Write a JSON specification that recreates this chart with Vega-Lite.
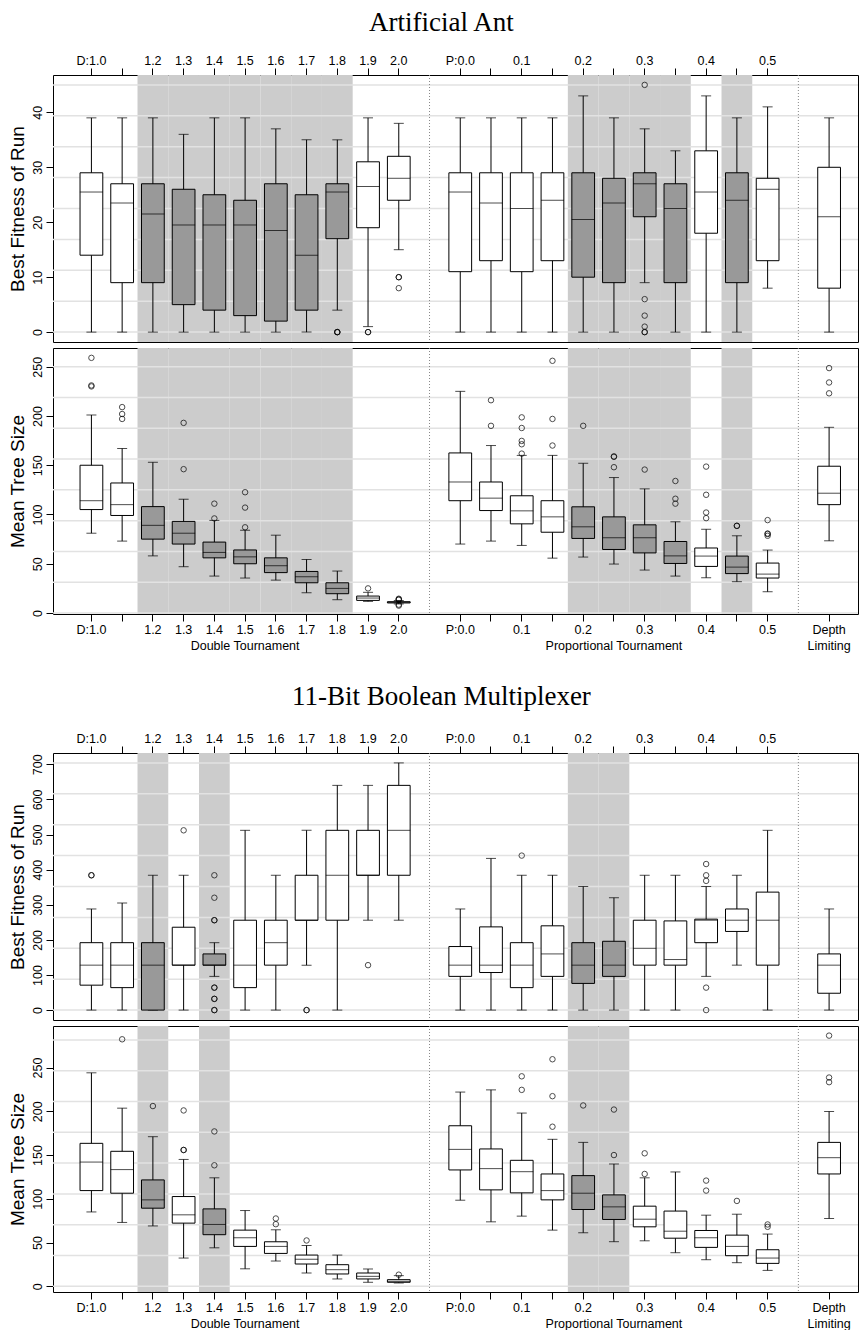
{
"$schema": "https://vega.github.io/schema/vega-lite/v6.json",
"padding": {"left": 7, "top": 8, "right": 0, "bottom": 0},
"background": "white",
"config": {
  "view": {"stroke": "black", "strokeWidth": 1},
  "font": "Liberation Sans",
  "axis": {"labelFont": "Liberation Sans", "labelFontSize": 12.5, "labelColor": "black", "tickColor": "black", "tickSize": 7, "tickWidth": 1, "domain": false, "grid": false, "titleFont": "Liberation Sans", "titleFontSize": 19, "titleFontWeight": "normal", "titleColor": "black"},
  "title": {"font": "Liberation Serif", "fontSize": 27, "fontWeight": "normal", "color": "black"}
},
"datasets": {
  "seps": [{"cat": "s1"}, {"cat": "s2"}],
  "grid": [
    {"k":"af","v":0},{"k":"af","v":5.625},{"k":"af","v":11.25},{"k":"af","v":16.875},{"k":"af","v":22.5},{"k":"af","v":28.125},{"k":"af","v":33.75},{"k":"af","v":39.375},{"k":"af","v":45},
    {"k":"as","v":0},{"k":"as","v":31.25},{"k":"as","v":62.5},{"k":"as","v":93.75},{"k":"as","v":125},{"k":"as","v":156.25},{"k":"as","v":187.5},{"k":"as","v":218.75},{"k":"as","v":250},
    {"k":"mf","v":0},{"k":"mf","v":88},{"k":"mf","v":176},{"k":"mf","v":264},{"k":"mf","v":352},{"k":"mf","v":440},{"k":"mf","v":528},{"k":"mf","v":616},{"k":"mf","v":704},
    {"k":"ms","v":0},{"k":"ms","v":35.2},{"k":"ms","v":70.4},{"k":"ms","v":105.6},{"k":"ms","v":140.8},{"k":"ms","v":176},{"k":"ms","v":211.2},{"k":"ms","v":246.4},{"k":"ms","v":281.6}
  ],
  "boxes": [
    {"k":"af","cat":"D:1.0","lo":0,"q1":14,"med":25.5,"q3":29,"hi":39,"sh":false},
    {"k":"af","cat":"D:1.1","lo":0,"q1":9,"med":23.5,"q3":27,"hi":39,"sh":false},
    {"k":"af","cat":"D:1.2","lo":0,"q1":9,"med":21.5,"q3":27,"hi":39,"sh":true},
    {"k":"af","cat":"D:1.3","lo":0,"q1":5,"med":19.5,"q3":26,"hi":36,"sh":true},
    {"k":"af","cat":"D:1.4","lo":0,"q1":4,"med":19.5,"q3":25,"hi":39,"sh":true},
    {"k":"af","cat":"D:1.5","lo":0,"q1":3,"med":19.5,"q3":24,"hi":39,"sh":true},
    {"k":"af","cat":"D:1.6","lo":0,"q1":2,"med":18.5,"q3":27,"hi":37,"sh":true},
    {"k":"af","cat":"D:1.7","lo":0,"q1":4,"med":14,"q3":25,"hi":35,"sh":true},
    {"k":"af","cat":"D:1.8","lo":4,"q1":17,"med":25.5,"q3":27,"hi":35,"sh":true},
    {"k":"af","cat":"D:1.9","lo":1,"q1":19,"med":26.5,"q3":31,"hi":39,"sh":false},
    {"k":"af","cat":"D:2.0","lo":15,"q1":24,"med":28,"q3":32,"hi":38,"sh":false},
    {"k":"af","cat":"P:0.0","lo":0,"q1":11,"med":25.5,"q3":29,"hi":39,"sh":false},
    {"k":"af","cat":"P:0.05","lo":0,"q1":13,"med":23.5,"q3":29,"hi":39,"sh":false},
    {"k":"af","cat":"P:0.1","lo":0,"q1":11,"med":22.5,"q3":29,"hi":39,"sh":false},
    {"k":"af","cat":"P:0.15","lo":0,"q1":13,"med":24,"q3":29,"hi":39,"sh":false},
    {"k":"af","cat":"P:0.2","lo":0,"q1":10,"med":20.5,"q3":29,"hi":43,"sh":true},
    {"k":"af","cat":"P:0.25","lo":0,"q1":9,"med":23.5,"q3":28,"hi":39,"sh":true},
    {"k":"af","cat":"P:0.3","lo":9,"q1":21,"med":27,"q3":29,"hi":37,"sh":true},
    {"k":"af","cat":"P:0.35","lo":0,"q1":9,"med":22.5,"q3":27,"hi":33,"sh":true},
    {"k":"af","cat":"P:0.4","lo":0,"q1":18,"med":25.5,"q3":33,"hi":43,"sh":false},
    {"k":"af","cat":"P:0.45","lo":0,"q1":9,"med":24,"q3":29,"hi":39,"sh":true},
    {"k":"af","cat":"P:0.5","lo":8,"q1":13,"med":26,"q3":28,"hi":41,"sh":false},
    {"k":"af","cat":"Depth","lo":0,"q1":8,"med":21,"q3":30,"hi":39,"sh":false},

    {"k":"as","cat":"D:1.0","lo":81,"q1":105,"med":114,"q3":150,"hi":201,"sh":false},
    {"k":"as","cat":"D:1.1","lo":73,"q1":99,"med":110,"q3":132,"hi":167,"sh":false},
    {"k":"as","cat":"D:1.2","lo":58,"q1":75,"med":89,"q3":108,"hi":153,"sh":true},
    {"k":"as","cat":"D:1.3","lo":47,"q1":70,"med":81,"q3":93,"hi":115.5,"sh":true},
    {"k":"as","cat":"D:1.4","lo":37.5,"q1":56,"med":61.5,"q3":72,"hi":94,"sh":true},
    {"k":"as","cat":"D:1.5","lo":35.5,"q1":50,"med":57,"q3":64,"hi":84,"sh":true},
    {"k":"as","cat":"D:1.6","lo":33.4,"q1":41,"med":48,"q3":56,"hi":79,"sh":true},
    {"k":"as","cat":"D:1.7","lo":20.6,"q1":30.7,"med":36.8,"q3":42.2,"hi":54.4,"sh":true},
    {"k":"as","cat":"D:1.8","lo":13.5,"q1":19.6,"med":25,"q3":30.7,"hi":42.6,"sh":true},
    {"k":"as","cat":"D:1.9","lo":11.8,"q1":12.8,"med":15.2,"q3":17.2,"hi":21,"sh":false},
    {"k":"as","cat":"D:2.0","lo":9.2,"q1":10.2,"med":10.8,"q3":11.5,"hi":12.7,"sh":false},
    {"k":"as","cat":"P:0.0","lo":70,"q1":114,"med":133,"q3":162.5,"hi":225,"sh":false},
    {"k":"as","cat":"P:0.05","lo":73,"q1":104,"med":116.6,"q3":133,"hi":170,"sh":false},
    {"k":"as","cat":"P:0.1","lo":68.6,"q1":90.5,"med":103.7,"q3":119,"hi":160,"sh":false},
    {"k":"as","cat":"P:0.15","lo":55.7,"q1":82,"med":97.6,"q3":114,"hi":160,"sh":false},
    {"k":"as","cat":"P:0.2","lo":56.8,"q1":75.7,"med":87.5,"q3":107.8,"hi":152,"sh":true},
    {"k":"as","cat":"P:0.25","lo":49.7,"q1":64.5,"med":76.4,"q3":97.6,"hi":137.5,"sh":true},
    {"k":"as","cat":"P:0.3","lo":43.6,"q1":61,"med":76.4,"q3":89.5,"hi":126,"sh":true},
    {"k":"as","cat":"P:0.35","lo":37.5,"q1":50.3,"med":58,"q3":72.6,"hi":92.6,"sh":true},
    {"k":"as","cat":"P:0.4","lo":35.8,"q1":47.3,"med":57.8,"q3":66,"hi":85,"sh":false},
    {"k":"as","cat":"P:0.45","lo":31.8,"q1":40,"med":46.6,"q3":57.8,"hi":78.4,"sh":true},
    {"k":"as","cat":"P:0.5","lo":21.6,"q1":35.5,"med":39.5,"q3":50.7,"hi":63.9,"sh":false},
    {"k":"as","cat":"Depth","lo":73.3,"q1":110,"med":121.6,"q3":149,"hi":188.5,"sh":false},

    {"k":"mf","cat":"D:1.0","lo":0,"q1":71,"med":128,"q3":192,"hi":288,"sh":false},
    {"k":"mf","cat":"D:1.1","lo":0,"q1":64,"med":128,"q3":192,"hi":305,"sh":false},
    {"k":"mf","cat":"D:1.2","lo":0,"q1":0,"med":128,"q3":192,"hi":384,"sh":true},
    {"k":"mf","cat":"D:1.3","lo":0,"q1":128,"med":128,"q3":236,"hi":384,"sh":false},
    {"k":"mf","cat":"D:1.4","lo":96,"q1":128,"med":128,"q3":160,"hi":192,"sh":true},
    {"k":"mf","cat":"D:1.5","lo":0,"q1":64,"med":128,"q3":256,"hi":512,"sh":false},
    {"k":"mf","cat":"D:1.6","lo":0,"q1":128,"med":192,"q3":256,"hi":384,"sh":false},
    {"k":"mf","cat":"D:1.7","lo":128,"q1":256,"med":256,"q3":384,"hi":512,"sh":false},
    {"k":"mf","cat":"D:1.8","lo":0,"q1":256,"med":384,"q3":512,"hi":640,"sh":false},
    {"k":"mf","cat":"D:1.9","lo":256,"q1":384,"med":384,"q3":512,"hi":640,"sh":false},
    {"k":"mf","cat":"D:2.0","lo":256,"q1":384,"med":512,"q3":640,"hi":704,"sh":false},
    {"k":"mf","cat":"P:0.0","lo":0,"q1":96,"med":128,"q3":181,"hi":288,"sh":false},
    {"k":"mf","cat":"P:0.05","lo":0,"q1":107,"med":128,"q3":237,"hi":432,"sh":false},
    {"k":"mf","cat":"P:0.1","lo":0,"q1":64,"med":128,"q3":192,"hi":384,"sh":false},
    {"k":"mf","cat":"P:0.15","lo":0,"q1":96,"med":160,"q3":240,"hi":384,"sh":false},
    {"k":"mf","cat":"P:0.2","lo":0,"q1":76,"med":128,"q3":192,"hi":352,"sh":true},
    {"k":"mf","cat":"P:0.25","lo":0,"q1":96,"med":128,"q3":196,"hi":320,"sh":true},
    {"k":"mf","cat":"P:0.3","lo":0,"q1":128,"med":176,"q3":256,"hi":384,"sh":false},
    {"k":"mf","cat":"P:0.35","lo":0,"q1":128,"med":144,"q3":254,"hi":384,"sh":false},
    {"k":"mf","cat":"P:0.4","lo":96,"q1":192,"med":256,"q3":259,"hi":352,"sh":false},
    {"k":"mf","cat":"P:0.45","lo":128,"q1":224,"med":256,"q3":288,"hi":384,"sh":false},
    {"k":"mf","cat":"P:0.5","lo":0,"q1":128,"med":256,"q3":336,"hi":512,"sh":false},
    {"k":"mf","cat":"Depth","lo":0,"q1":48,"med":128,"q3":160,"hi":288,"sh":false},

    {"k":"ms","cat":"D:1.0","lo":85,"q1":109.4,"med":142,"q3":163.4,"hi":244,"sh":false},
    {"k":"ms","cat":"D:1.1","lo":73,"q1":106.4,"med":133.4,"q3":154.3,"hi":203.6,"sh":false},
    {"k":"ms","cat":"D:1.2","lo":69,"q1":89.3,"med":98.8,"q3":121.6,"hi":171,"sh":true},
    {"k":"ms","cat":"D:1.3","lo":32.3,"q1":72.2,"med":81.7,"q3":102.6,"hi":145,"sh":false},
    {"k":"ms","cat":"D:1.4","lo":44,"q1":59,"med":70.7,"q3":88.5,"hi":124,"sh":true},
    {"k":"ms","cat":"D:1.5","lo":20,"q1":45.6,"med":55.5,"q3":64.2,"hi":86.6,"sh":false},
    {"k":"ms","cat":"D:1.6","lo":28.9,"q1":37.6,"med":45.6,"q3":50.9,"hi":64.6,"sh":false},
    {"k":"ms","cat":"D:1.7","lo":15.2,"q1":25.5,"med":30.8,"q3":35.7,"hi":46.7,"sh":false},
    {"k":"ms","cat":"D:1.8","lo":8.4,"q1":14.1,"med":19,"q3":24.7,"hi":35.7,"sh":false},
    {"k":"ms","cat":"D:1.9","lo":4.6,"q1":8.4,"med":11.4,"q3":15.2,"hi":19.8,"sh":false},
    {"k":"ms","cat":"D:2.0","lo":3.8,"q1":4.6,"med":5.7,"q3":7.6,"hi":12.2,"sh":false},
    {"k":"ms","cat":"P:0.0","lo":98.4,"q1":133,"med":156.5,"q3":183.5,"hi":222,"sh":false},
    {"k":"ms","cat":"P:0.05","lo":73.7,"q1":110.2,"med":134.5,"q3":157,"hi":224.5,"sh":false},
    {"k":"ms","cat":"P:0.1","lo":80.2,"q1":106.8,"med":131,"q3":144,"hi":198,"sh":false},
    {"k":"ms","cat":"P:0.15","lo":64.2,"q1":98.8,"med":109.4,"q3":128.4,"hi":168,"sh":false},
    {"k":"ms","cat":"P:0.2","lo":61.2,"q1":87.8,"med":106.4,"q3":126.5,"hi":164.5,"sh":true},
    {"k":"ms","cat":"P:0.25","lo":51,"q1":76.4,"med":90.8,"q3":104.5,"hi":139.8,"sh":true},
    {"k":"ms","cat":"P:0.3","lo":52,"q1":68,"med":76.7,"q3":91.6,"hi":124,"sh":false},
    {"k":"ms","cat":"P:0.35","lo":38.4,"q1":55,"med":63,"q3":86,"hi":130.7,"sh":false},
    {"k":"ms","cat":"P:0.4","lo":30.4,"q1":44.5,"med":55.5,"q3":63.8,"hi":81.3,"sh":false},
    {"k":"ms","cat":"P:0.45","lo":27,"q1":35,"med":45.6,"q3":58.5,"hi":82.4,"sh":false},
    {"k":"ms","cat":"P:0.5","lo":18.2,"q1":26.2,"med":32.3,"q3":41.8,"hi":59.7,"sh":false},
    {"k":"ms","cat":"Depth","lo":77.5,"q1":128.4,"med":147,"q3":164.5,"hi":199.8,"sh":false}
  ],
  "outs": [
    {"k":"af","cat":"D:1.8","v":0},{"k":"af","cat":"D:1.8","v":0},{"k":"af","cat":"D:1.8","v":0},
    {"k":"af","cat":"D:1.9","v":0},{"k":"af","cat":"D:1.9","v":0},
    {"k":"af","cat":"D:2.0","v":10},{"k":"af","cat":"D:2.0","v":10},{"k":"af","cat":"D:2.0","v":8},
    {"k":"af","cat":"P:0.3","v":45},{"k":"af","cat":"P:0.3","v":6},{"k":"af","cat":"P:0.3","v":3},{"k":"af","cat":"P:0.3","v":1},{"k":"af","cat":"P:0.3","v":0},{"k":"af","cat":"P:0.3","v":0},

    {"k":"as","cat":"D:1.0","v":259},{"k":"as","cat":"D:1.0","v":231},{"k":"as","cat":"D:1.0","v":230},
    {"k":"as","cat":"D:1.1","v":209},{"k":"as","cat":"D:1.1","v":202},{"k":"as","cat":"D:1.1","v":197},
    {"k":"as","cat":"D:1.3","v":193},{"k":"as","cat":"D:1.3","v":146},
    {"k":"as","cat":"D:1.4","v":111},{"k":"as","cat":"D:1.4","v":96},
    {"k":"as","cat":"D:1.5","v":122.6},{"k":"as","cat":"D:1.5","v":107},{"k":"as","cat":"D:1.5","v":87},
    {"k":"as","cat":"D:1.9","v":25},
    {"k":"as","cat":"D:2.0","v":14.5},{"k":"as","cat":"D:2.0","v":13.8},{"k":"as","cat":"D:2.0","v":13.5},{"k":"as","cat":"D:2.0","v":8.5},{"k":"as","cat":"D:2.0","v":7.5},
    {"k":"as","cat":"P:0.05","v":216},{"k":"as","cat":"P:0.05","v":190},
    {"k":"as","cat":"P:0.1","v":198.6},{"k":"as","cat":"P:0.1","v":187.8},{"k":"as","cat":"P:0.1","v":174.7},{"k":"as","cat":"P:0.1","v":171.3},{"k":"as","cat":"P:0.1","v":161.8},
    {"k":"as","cat":"P:0.15","v":256},{"k":"as","cat":"P:0.15","v":197},{"k":"as","cat":"P:0.15","v":170},
    {"k":"as","cat":"P:0.2","v":190},
    {"k":"as","cat":"P:0.25","v":159},{"k":"as","cat":"P:0.25","v":158.5},{"k":"as","cat":"P:0.25","v":148},
    {"k":"as","cat":"P:0.3","v":145.6},
    {"k":"as","cat":"P:0.35","v":134},{"k":"as","cat":"P:0.35","v":116},{"k":"as","cat":"P:0.35","v":111},
    {"k":"as","cat":"P:0.4","v":148.6},{"k":"as","cat":"P:0.4","v":120},{"k":"as","cat":"P:0.4","v":102},{"k":"as","cat":"P:0.4","v":96.3},
    {"k":"as","cat":"P:0.45","v":88.5},{"k":"as","cat":"P:0.45","v":88.5},
    {"k":"as","cat":"P:0.5","v":94.3},{"k":"as","cat":"P:0.5","v":80.7},{"k":"as","cat":"P:0.5","v":80.2},{"k":"as","cat":"P:0.5","v":78.4},
    {"k":"as","cat":"Depth","v":248.6},{"k":"as","cat":"Depth","v":234},{"k":"as","cat":"Depth","v":223},

    {"k":"mf","cat":"D:1.0","v":384},{"k":"mf","cat":"D:1.0","v":384},
    {"k":"mf","cat":"D:1.3","v":512},
    {"k":"mf","cat":"D:1.4","v":384},{"k":"mf","cat":"D:1.4","v":320},{"k":"mf","cat":"D:1.4","v":256},{"k":"mf","cat":"D:1.4","v":256},{"k":"mf","cat":"D:1.4","v":64},{"k":"mf","cat":"D:1.4","v":64},{"k":"mf","cat":"D:1.4","v":32},{"k":"mf","cat":"D:1.4","v":32},{"k":"mf","cat":"D:1.4","v":0},{"k":"mf","cat":"D:1.4","v":0},
    {"k":"mf","cat":"D:1.7","v":0},{"k":"mf","cat":"D:1.7","v":0},
    {"k":"mf","cat":"D:1.9","v":128},
    {"k":"mf","cat":"P:0.1","v":440},
    {"k":"mf","cat":"P:0.4","v":416},{"k":"mf","cat":"P:0.4","v":384},{"k":"mf","cat":"P:0.4","v":368},{"k":"mf","cat":"P:0.4","v":64},{"k":"mf","cat":"P:0.4","v":0},

    {"k":"ms","cat":"D:1.1","v":282.3},
    {"k":"ms","cat":"D:1.2","v":206},
    {"k":"ms","cat":"D:1.3","v":201},{"k":"ms","cat":"D:1.3","v":155.8},{"k":"ms","cat":"D:1.3","v":155.8},
    {"k":"ms","cat":"D:1.4","v":177},{"k":"ms","cat":"D:1.4","v":138.3},
    {"k":"ms","cat":"D:1.6","v":77.5},{"k":"ms","cat":"D:1.6","v":71},
    {"k":"ms","cat":"D:1.7","v":52.4},
    {"k":"ms","cat":"D:2.0","v":13.3},
    {"k":"ms","cat":"P:0.1","v":240},{"k":"ms","cat":"P:0.1","v":224.5},
    {"k":"ms","cat":"P:0.15","v":259.5},{"k":"ms","cat":"P:0.15","v":217.3},{"k":"ms","cat":"P:0.15","v":182.4},
    {"k":"ms","cat":"P:0.2","v":206.7},
    {"k":"ms","cat":"P:0.25","v":202},{"k":"ms","cat":"P:0.25","v":150},
    {"k":"ms","cat":"P:0.3","v":152},{"k":"ms","cat":"P:0.3","v":128.4},
    {"k":"ms","cat":"P:0.4","v":120.8},{"k":"ms","cat":"P:0.4","v":109.4},
    {"k":"ms","cat":"P:0.45","v":97.6},
    {"k":"ms","cat":"P:0.5","v":70.7},{"k":"ms","cat":"P:0.5","v":68},
    {"k":"ms","cat":"Depth","v":286.5},{"k":"ms","cat":"Depth","v":238.6},{"k":"ms","cat":"Depth","v":233.3}
  ]
},
"spacing": 30,
"vconcat": [
 {"title": {"text": "Artificial Ant", "anchor": "middle", "offset": 17, "dx": 8},
  "spacing": 4,
  "vconcat": [
   {"width": 805, "height": 267,
    "data": {"name": "boxes"},
    "transform": [{"filter": "datum.k=='af'"}],
    "layer": [
     {"transform": [{"filter": "datum.sh"}], "mark": {"type": "bar", "color": "#cccccc"},
      "encoding": {"x": {"field": "cat", "type": "nominal", "scale": {"type": "band", "domain": ["D:1.0","D:1.1","D:1.2","D:1.3","D:1.4","D:1.5","D:1.6","D:1.7","D:1.8","D:1.9","D:2.0","s1","P:0.0","P:0.05","P:0.1","P:0.15","P:0.2","P:0.25","P:0.3","P:0.35","P:0.4","P:0.45","P:0.5","s2","Depth"], "paddingInner": 0, "paddingOuter": 0.595, "align": 0.63},
        "axis": {"orient": "top", "title": null, "labelAngle": 0, "labelPadding": 1, "labelOverlap": false, "values": ["D:1.0","D:1.1","D:1.2","D:1.3","D:1.4","D:1.5","D:1.6","D:1.7","D:1.8","D:1.9","D:2.0","P:0.0","P:0.05","P:0.1","P:0.15","P:0.2","P:0.25","P:0.3","P:0.35","P:0.4","P:0.45","P:0.5"], "labelExpr": "datum.value=='D:1.0'||datum.value=='P:0.0' ? datum.value : (datum.value=='D:1.1' ? '' : (length(datum.value)==5 ? substring(datum.value,2) : ''))"}}}},
     {"data": {"name": "grid"}, "transform": [{"filter": "datum.k=='af'"}], "mark": {"type": "rule", "color": "#e2e2e2", "strokeWidth": 1.5},
      "encoding": {"y": {"field": "v", "type": "quantitative", "scale": {"domain": [-1.8, 46.8], "nice": false, "zero": false},
        "axis": {"title": "Best Fitness of Run", "values": [0,10,20,30,40], "tickCount": 5, "labelOverlap": false, "labelSeparation": -40, "labelAngle": 270, "labelAlign": "center", "labelBaseline": "bottom", "labelPadding": 2, "titlePadding": 4}}}},
     {"data": {"name": "seps"}, "mark": {"type": "rule", "color": "#888888", "strokeDash": [1, 2], "strokeWidth": 1},
      "encoding": {"x": {"field": "cat", "type": "nominal"}}},
     {"mark": {"type": "rule", "color": "black", "strokeWidth": 1},
      "encoding": {"x": {"field": "cat", "type": "nominal"}, "y": {"field": "lo", "type": "quantitative"}, "y2": {"field": "hi"}}},
     {"mark": {"type": "tick", "color": "black", "size": 10, "thickness": 1},
      "encoding": {"x": {"field": "cat", "type": "nominal"}, "y": {"field": "lo", "type": "quantitative"}}},
     {"mark": {"type": "tick", "color": "black", "size": 10, "thickness": 1},
      "encoding": {"x": {"field": "cat", "type": "nominal"}, "y": {"field": "hi", "type": "quantitative"}}},
     {"mark": {"type": "bar", "stroke": "black", "strokeWidth": 1, "width": {"band": 0.74}},
      "encoding": {"x": {"field": "cat", "type": "nominal"}, "y": {"field": "q1", "type": "quantitative"}, "y2": {"field": "q3"},
        "fill": {"condition": {"test": "datum.sh", "value": "#999999"}, "value": "white"}}},
     {"mark": {"type": "tick", "color": "black", "size": 23, "thickness": 1},
      "encoding": {"x": {"field": "cat", "type": "nominal"}, "y": {"field": "med", "type": "quantitative"}}},
     {"data": {"name": "outs"}, "transform": [{"filter": "datum.k=='af'"}], "mark": {"type": "point", "shape": "circle", "filled": false, "color": "black", "size": 30, "strokeWidth": 1},
      "encoding": {"x": {"field": "cat", "type": "nominal"}, "y": {"field": "v", "type": "quantitative"}}}
    ]},
   {"width": 805, "height": 266,
    "data": {"name": "boxes"},
    "transform": [{"filter": "datum.k=='as'"}],
    "layer": [
     {"transform": [{"filter": "datum.sh"}], "mark": {"type": "bar", "color": "#cccccc"},
      "encoding": {"x": {"field": "cat", "type": "nominal", "scale": {"type": "band", "domain": ["D:1.0","D:1.1","D:1.2","D:1.3","D:1.4","D:1.5","D:1.6","D:1.7","D:1.8","D:1.9","D:2.0","s1","P:0.0","P:0.05","P:0.1","P:0.15","P:0.2","P:0.25","P:0.3","P:0.35","P:0.4","P:0.45","P:0.5","s2","Depth"], "paddingInner": 0, "paddingOuter": 0.595, "align": 0.63},
        "axis": {"orient": "bottom", "title": null, "labelAngle": 0, "labelPadding": 2, "labelLineHeight": 16, "labelOverlap": false, "values": ["D:1.0","D:1.1","D:1.2","D:1.3","D:1.4","D:1.5","D:1.6","D:1.7","D:1.8","D:1.9","D:2.0","P:0.0","P:0.05","P:0.1","P:0.15","P:0.2","P:0.25","P:0.3","P:0.35","P:0.4","P:0.45","P:0.5","Depth"], "labelExpr": "datum.value=='Depth' ? ['Depth','Limiting'] : datum.value=='D:1.5' ? ['1.5','Double Tournament'] : datum.value=='P:0.25' ? ['','Proportional Tournament'] : datum.value=='D:1.0'||datum.value=='P:0.0' ? datum.value : datum.value=='D:1.1' ? '' : length(datum.value)==5 ? substring(datum.value,2) : ''"}}}},
     {"data": {"name": "grid"}, "transform": [{"filter": "datum.k=='as'"}], "mark": {"type": "rule", "color": "#e2e2e2", "strokeWidth": 1.5},
      "encoding": {"y": {"field": "v", "type": "quantitative", "scale": {"domain": [-1, 269], "nice": false, "zero": false},
        "axis": {"title": "Mean Tree Size", "values": [0,50,100,150,200,250], "tickCount": 6, "labelOverlap": false, "labelSeparation": -40, "labelAngle": 270, "labelAlign": "center", "labelBaseline": "bottom", "labelPadding": 2, "titlePadding": 4}}}},
     {"data": {"name": "seps"}, "mark": {"type": "rule", "color": "#888888", "strokeDash": [1, 2], "strokeWidth": 1},
      "encoding": {"x": {"field": "cat", "type": "nominal"}}},
     {"mark": {"type": "rule", "color": "black", "strokeWidth": 1},
      "encoding": {"x": {"field": "cat", "type": "nominal"}, "y": {"field": "lo", "type": "quantitative"}, "y2": {"field": "hi"}}},
     {"mark": {"type": "tick", "color": "black", "size": 10, "thickness": 1},
      "encoding": {"x": {"field": "cat", "type": "nominal"}, "y": {"field": "lo", "type": "quantitative"}}},
     {"mark": {"type": "tick", "color": "black", "size": 10, "thickness": 1},
      "encoding": {"x": {"field": "cat", "type": "nominal"}, "y": {"field": "hi", "type": "quantitative"}}},
     {"mark": {"type": "bar", "stroke": "black", "strokeWidth": 1, "width": {"band": 0.74}},
      "encoding": {"x": {"field": "cat", "type": "nominal"}, "y": {"field": "q1", "type": "quantitative"}, "y2": {"field": "q3"},
        "fill": {"condition": {"test": "datum.sh", "value": "#999999"}, "value": "white"}}},
     {"mark": {"type": "tick", "color": "black", "size": 23, "thickness": 1},
      "encoding": {"x": {"field": "cat", "type": "nominal"}, "y": {"field": "med", "type": "quantitative"}}},
     {"data": {"name": "outs"}, "transform": [{"filter": "datum.k=='as'"}], "mark": {"type": "point", "shape": "circle", "filled": false, "color": "black", "size": 30, "strokeWidth": 1},
      "encoding": {"x": {"field": "cat", "type": "nominal"}, "y": {"field": "v", "type": "quantitative"}}}
    ]}
  ]},
 {"title": {"text": "11-Bit Boolean Multiplexer", "anchor": "middle", "offset": 21, "dx": 8},
  "spacing": 4,
  "vconcat": [
   {"width": 805, "height": 267,
    "data": {"name": "boxes"},
    "transform": [{"filter": "datum.k=='mf'"}],
    "layer": [
     {"transform": [{"filter": "datum.sh"}], "mark": {"type": "bar", "color": "#cccccc"},
      "encoding": {"x": {"field": "cat", "type": "nominal", "scale": {"type": "band", "domain": ["D:1.0","D:1.1","D:1.2","D:1.3","D:1.4","D:1.5","D:1.6","D:1.7","D:1.8","D:1.9","D:2.0","s1","P:0.0","P:0.05","P:0.1","P:0.15","P:0.2","P:0.25","P:0.3","P:0.35","P:0.4","P:0.45","P:0.5","s2","Depth"], "paddingInner": 0, "paddingOuter": 0.595, "align": 0.63},
        "axis": {"orient": "top", "title": null, "labelAngle": 0, "labelPadding": 1, "labelOverlap": false, "values": ["D:1.0","D:1.1","D:1.2","D:1.3","D:1.4","D:1.5","D:1.6","D:1.7","D:1.8","D:1.9","D:2.0","P:0.0","P:0.05","P:0.1","P:0.15","P:0.2","P:0.25","P:0.3","P:0.35","P:0.4","P:0.45","P:0.5"], "labelExpr": "datum.value=='D:1.0'||datum.value=='P:0.0' ? datum.value : (datum.value=='D:1.1' ? '' : (length(datum.value)==5 ? substring(datum.value,2) : ''))"}}}},
     {"data": {"name": "grid"}, "transform": [{"filter": "datum.k=='mf'"}], "mark": {"type": "rule", "color": "#e2e2e2", "strokeWidth": 1.5},
      "encoding": {"y": {"field": "v", "type": "quantitative", "scale": {"domain": [-28.2, 732.2], "nice": false, "zero": false},
        "axis": {"title": "Best Fitness of Run", "values": [0,100,200,300,400,500,600,700], "tickCount": 8, "labelOverlap": false, "labelSeparation": -40, "labelAngle": 270, "labelAlign": "center", "labelBaseline": "bottom", "labelPadding": 2, "titlePadding": 4}}}},
     {"data": {"name": "seps"}, "mark": {"type": "rule", "color": "#888888", "strokeDash": [1, 2], "strokeWidth": 1},
      "encoding": {"x": {"field": "cat", "type": "nominal"}}},
     {"mark": {"type": "rule", "color": "black", "strokeWidth": 1},
      "encoding": {"x": {"field": "cat", "type": "nominal"}, "y": {"field": "lo", "type": "quantitative"}, "y2": {"field": "hi"}}},
     {"mark": {"type": "tick", "color": "black", "size": 10, "thickness": 1},
      "encoding": {"x": {"field": "cat", "type": "nominal"}, "y": {"field": "lo", "type": "quantitative"}}},
     {"mark": {"type": "tick", "color": "black", "size": 10, "thickness": 1},
      "encoding": {"x": {"field": "cat", "type": "nominal"}, "y": {"field": "hi", "type": "quantitative"}}},
     {"mark": {"type": "bar", "stroke": "black", "strokeWidth": 1, "width": {"band": 0.74}},
      "encoding": {"x": {"field": "cat", "type": "nominal"}, "y": {"field": "q1", "type": "quantitative"}, "y2": {"field": "q3"},
        "fill": {"condition": {"test": "datum.sh", "value": "#999999"}, "value": "white"}}},
     {"mark": {"type": "tick", "color": "black", "size": 23, "thickness": 1},
      "encoding": {"x": {"field": "cat", "type": "nominal"}, "y": {"field": "med", "type": "quantitative"}}},
     {"data": {"name": "outs"}, "transform": [{"filter": "datum.k=='mf'"}], "mark": {"type": "point", "shape": "circle", "filled": false, "color": "black", "size": 30, "strokeWidth": 1},
      "encoding": {"x": {"field": "cat", "type": "nominal"}, "y": {"field": "v", "type": "quantitative"}}}
    ]},
   {"width": 805, "height": 266,
    "data": {"name": "boxes"},
    "transform": [{"filter": "datum.k=='ms'"}],
    "layer": [
     {"transform": [{"filter": "datum.sh"}], "mark": {"type": "bar", "color": "#cccccc"},
      "encoding": {"x": {"field": "cat", "type": "nominal", "scale": {"type": "band", "domain": ["D:1.0","D:1.1","D:1.2","D:1.3","D:1.4","D:1.5","D:1.6","D:1.7","D:1.8","D:1.9","D:2.0","s1","P:0.0","P:0.05","P:0.1","P:0.15","P:0.2","P:0.25","P:0.3","P:0.35","P:0.4","P:0.45","P:0.5","s2","Depth"], "paddingInner": 0, "paddingOuter": 0.595, "align": 0.63},
        "axis": {"orient": "bottom", "title": null, "labelAngle": 0, "labelPadding": 2, "labelLineHeight": 16, "labelOverlap": false, "values": ["D:1.0","D:1.1","D:1.2","D:1.3","D:1.4","D:1.5","D:1.6","D:1.7","D:1.8","D:1.9","D:2.0","P:0.0","P:0.05","P:0.1","P:0.15","P:0.2","P:0.25","P:0.3","P:0.35","P:0.4","P:0.45","P:0.5","Depth"], "labelExpr": "datum.value=='Depth' ? ['Depth','Limiting'] : datum.value=='D:1.5' ? ['1.5','Double Tournament'] : datum.value=='P:0.25' ? ['','Proportional Tournament'] : datum.value=='D:1.0'||datum.value=='P:0.0' ? datum.value : datum.value=='D:1.1' ? '' : length(datum.value)==5 ? substring(datum.value,2) : ''"}}}},
     {"data": {"name": "grid"}, "transform": [{"filter": "datum.k=='ms'"}], "mark": {"type": "rule", "color": "#e2e2e2", "strokeWidth": 1.5},
      "encoding": {"y": {"field": "v", "type": "quantitative", "scale": {"domain": [-6.5, 297.5], "nice": false, "zero": false},
        "axis": {"title": "Mean Tree Size", "values": [0,50,100,150,200,250], "tickCount": 6, "labelOverlap": false, "labelSeparation": -40, "labelAngle": 270, "labelAlign": "center", "labelBaseline": "bottom", "labelPadding": 2, "titlePadding": 4}}}},
     {"data": {"name": "seps"}, "mark": {"type": "rule", "color": "#888888", "strokeDash": [1, 2], "strokeWidth": 1},
      "encoding": {"x": {"field": "cat", "type": "nominal"}}},
     {"mark": {"type": "rule", "color": "black", "strokeWidth": 1},
      "encoding": {"x": {"field": "cat", "type": "nominal"}, "y": {"field": "lo", "type": "quantitative"}, "y2": {"field": "hi"}}},
     {"mark": {"type": "tick", "color": "black", "size": 10, "thickness": 1},
      "encoding": {"x": {"field": "cat", "type": "nominal"}, "y": {"field": "lo", "type": "quantitative"}}},
     {"mark": {"type": "tick", "color": "black", "size": 10, "thickness": 1},
      "encoding": {"x": {"field": "cat", "type": "nominal"}, "y": {"field": "hi", "type": "quantitative"}}},
     {"mark": {"type": "bar", "stroke": "black", "strokeWidth": 1, "width": {"band": 0.74}},
      "encoding": {"x": {"field": "cat", "type": "nominal"}, "y": {"field": "q1", "type": "quantitative"}, "y2": {"field": "q3"},
        "fill": {"condition": {"test": "datum.sh", "value": "#999999"}, "value": "white"}}},
     {"mark": {"type": "tick", "color": "black", "size": 23, "thickness": 1},
      "encoding": {"x": {"field": "cat", "type": "nominal"}, "y": {"field": "med", "type": "quantitative"}}},
     {"data": {"name": "outs"}, "transform": [{"filter": "datum.k=='ms'"}], "mark": {"type": "point", "shape": "circle", "filled": false, "color": "black", "size": 30, "strokeWidth": 1},
      "encoding": {"x": {"field": "cat", "type": "nominal"}, "y": {"field": "v", "type": "quantitative"}}}
    ]}
  ]}
]
}
